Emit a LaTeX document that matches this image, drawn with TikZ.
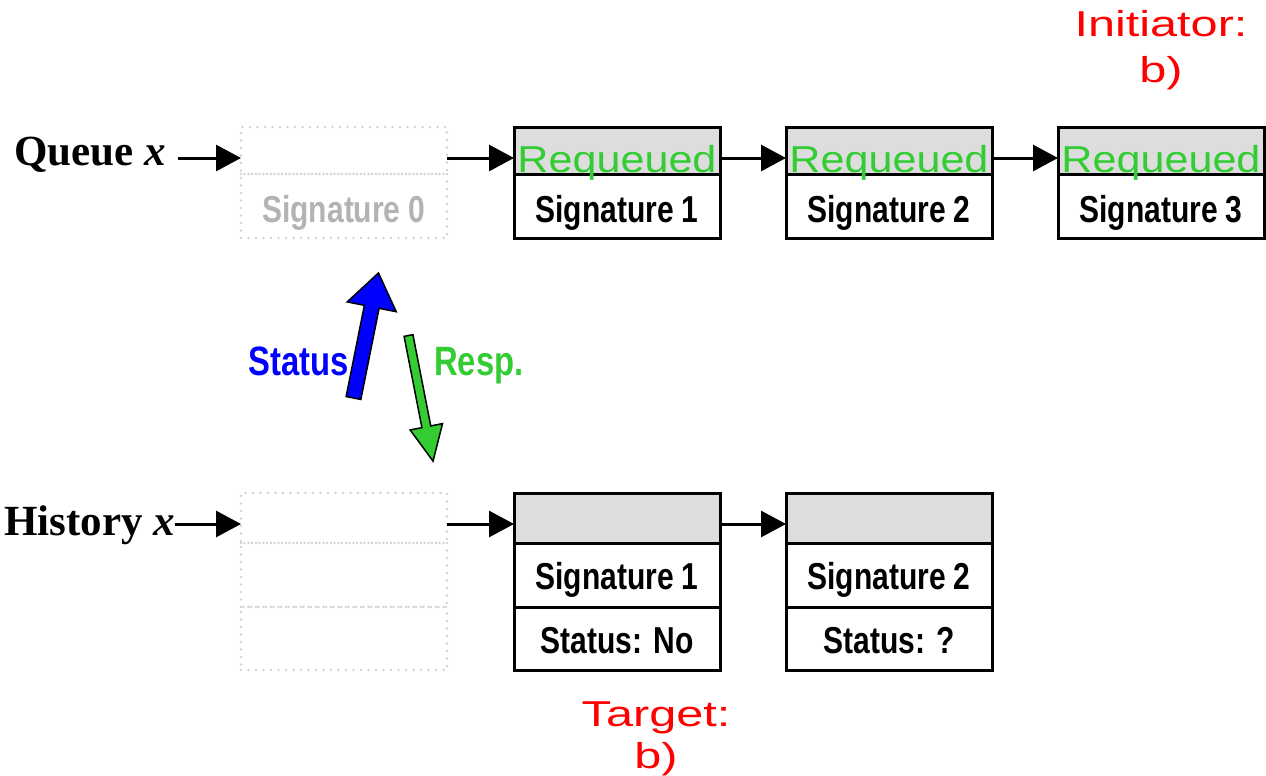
\documentclass[tikz,border=0pt]{standalone}
\usepackage{fontspec}
\setmainfont{Liberation Sans}
\newfontfamily\nb[FakeStretch=0.8]{Liberation Sans}
\newfontfamily\wa[FakeStretch=1.15]{Liberation Sans}
\newfontfamily\wb[FakeStretch=1.35]{Liberation Sans}
\newfontfamily\tms{Liberation Serif}
\usetikzlibrary{arrows.meta}
\definecolor{reqgreen}{HTML}{33CC33}
\definecolor{hdrgray}{HTML}{DDDDDD}
\definecolor{ghostgray}{HTML}{D2D2D2}
\definecolor{ghosttext}{HTML}{B3B3B3}
\definecolor{sblue}{HTML}{0000FF}
\definecolor{sred}{HTML}{FF0000}
\begin{document}
\begin{tikzpicture}[x=1pt,y=-1pt,
  cell/.style={draw=black, line width=3pt, minimum width=206pt, inner sep=0pt, outer sep=0pt, anchor=north west},
  hdr/.style={cell, fill=hdrgray},
  ghost/.style={draw=ghostgray, line width=2.8pt, line cap=round, dash pattern={on 0pt off 7.5pt}, minimum width=206pt, inner sep=0pt, outer sep=0pt, anchor=north west},
  conn/.style={line width=3pt, -{Triangle[length=25pt,width=26pt]}},
  sig/.style={font=\nb\bfseries\fontsize{37.5}{40}\selectfont, inner sep=0pt, anchor=base},
  req/.style={font=\wa\fontsize{37.5}{40}\selectfont, text=reqgreen, inner sep=0pt, anchor=base},
  redlab/.style={font=\wb\fontsize{36}{40}\selectfont, text=sred, inner sep=0pt, anchor=base},
  rowlab/.style={font=\tms\bfseries\fontsize{43}{46}\selectfont, inner sep=0pt, anchor=base west},
  arrlab/.style={font=\nb\bfseries\fontsize{41}{44}\selectfont, inner sep=0pt, anchor=base west},
  blockarrow/.style={draw=black, line width=1.5pt, line join=miter}
]
\useasboundingbox (0,0) rectangle (1266,776);

% ---------- Queue row ----------
\node[ghost, minimum height=47pt] (q0t) at (241,127) {};
\node[ghost, minimum height=64pt] (q0b) at (241,174) {};
\node[sig, text=ghosttext] (q0s) at (344,222) {Signature 0};

\node[hdr, minimum height=47pt] (q1t) at (514,127) {};
\node[cell, minimum height=64pt] (q1b) at (514,174) {};
\node[hdr, minimum height=47pt] (q2t) at (786,127) {};
\node[cell, minimum height=64pt] (q2b) at (786,174) {};
\node[hdr, minimum height=47pt] (q3t) at (1058,127) {};
\node[cell, minimum height=64pt] (q3b) at (1058,174) {};

\node[req] (q1r) at (617,172) {Requeued};
\node[req] (q2r) at (889,172) {Requeued};
\node[req] (q3r) at (1161,172) {Requeued};
\node[sig] (q1s) at (617,222) {Signature 1};
\node[sig] (q2s) at (889,222) {Signature 2};
\node[sig] (q3s) at (1161,222) {Signature 3};

\node[rowlab] (qlab) at (14,165) {Queue \textit{x}};
\coordinate (qs) at (178,158);
\draw[conn] (qs) -- (q0t.west |- qs);
\draw[conn] (q0t.east |- qs) -- (q1t.west |- qs);
\draw[conn] (q1t.east |- qs) -- (q2t.west |- qs);
\draw[conn] (q2t.east |- qs) -- (q3t.west |- qs);

% ---------- History row ----------
\node[ghost, minimum height=50pt] (h0t) at (241,493) {};
\node[ghost, minimum height=64pt] (h0m) at (241,543) {};
\node[ghost, minimum height=63pt] (h0b) at (241,607) {};

\node[hdr, minimum height=50pt] (h1t) at (514,493) {};
\node[cell, minimum height=64pt] (h1m) at (514,543) {};
\node[cell, minimum height=63pt] (h1b) at (514,607) {};
\node[hdr, minimum height=50pt] (h2t) at (786,493) {};
\node[cell, minimum height=64pt] (h2m) at (786,543) {};
\node[cell, minimum height=63pt] (h2b) at (786,607) {};

\node[sig] (h1s) at (617,589) {Signature 1};
\node[sig] (h2s) at (889,589) {Signature 2};
\node[sig] (h1st) at (617,653) {Status: No};
\node[sig] (h2st) at (889,653) {Status: ?};

\node[rowlab] (hlab) at (4,535) {History \textit{x}};
\coordinate (hs) at (175,524);
\draw[conn] (hs) -- (h0t.west |- hs);
\draw[conn] (h0t.east |- hs) -- (h1t.west |- hs);
\draw[conn] (h1t.east |- hs) -- (h2t.west |- hs);

% ---------- Status / Resp. ----------
\node[arrlab, text=sblue] (stat) at (248,375) {Status};
\node[arrlab, text=reqgreen] (resp) at (434,375) {Resp.};

\begin{scope}[shift={(353.5,398)}, rotate=78.7]
  \draw[blockarrow, fill=sblue] (0,-7.5) -- (93,-7.5) -- (93,-25) -- (127.5,0) -- (93,25) -- (93,7.5) -- (0,7.5) -- cycle;
\end{scope}
\begin{scope}[shift={(408.5,335.5)}, rotate=-78.95]
  \draw[blockarrow, fill=reqgreen] (0,-4.5) -- (93,-4.5) -- (93,-16.5) -- (128,0) -- (93,16.5) -- (93,4.5) -- (0,4.5) -- cycle;
\end{scope}

% ---------- red labels ----------
\node[redlab] (init1) at (1161,37) {Initiator:};
\node[redlab] (init2) at (1161,82) {b)};
\node[redlab] (targ1) at (656,726) {Target:};
\node[redlab] (targ2) at (656,768) {b)};
\end{tikzpicture}
\end{document}
